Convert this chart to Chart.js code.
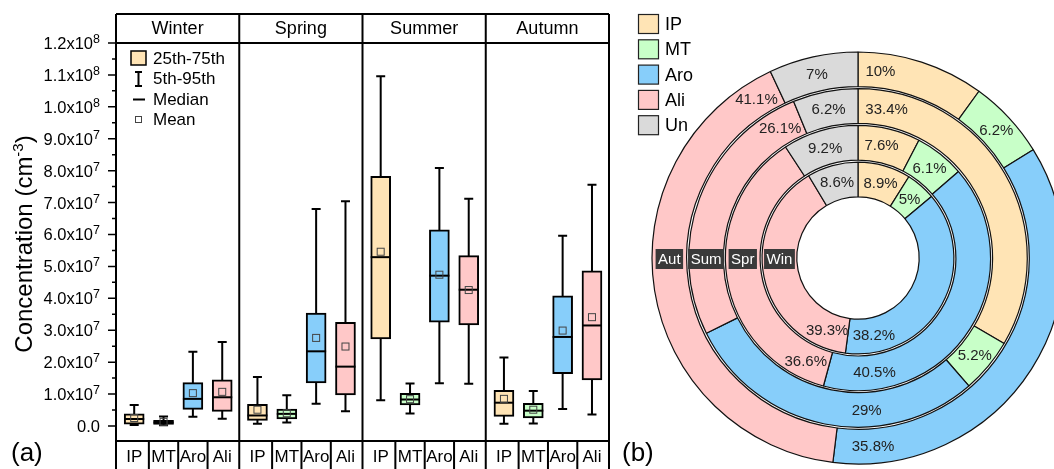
<!DOCTYPE html>
<html>
<head>
<meta charset="utf-8">
<script src="https://cdn.jsdelivr.net/npm/chart.js@4.4.0/dist/chart.umd.min.js"></script>
<style>
  html, body { margin: 0; padding: 0; background: #fff; overflow: hidden; width: 1054px; height: 469px; }
  #boxChart { position: absolute; left: 0; top: 0; }
  #ringChart { position: absolute; left: 620px; top: 0; }
</style>
</head>
<body>
<canvas id="boxChart" width="620" height="469"></canvas>
<canvas id="ringChart" width="460" height="469"></canvas>
<script>
const seasons = ['Winter', 'Spring', 'Summer', 'Autumn'];
const groups = ['IP', 'MT', 'Aro', 'Ali'];

// concentration, units of 1e7 cm^-3; season by season, IP MT Aro Ali
const p5     = [0.03, 0.02, 0.29, 0.23,  0.07, 0.11, 0.70, 0.46,  0.81, 0.39, 1.34, 1.32,  0.07, 0.08, 0.53, 0.36];
const p25    = [0.06, 0.05, 0.52, 0.46,  0.175, 0.22, 1.35, 0.97, 2.73, 0.66, 3.25, 3.17,  0.30, 0.25, 1.64, 1.44];
const median = [0.22, 0.11, 0.85, 0.90,  0.33, 0.38, 2.34, 1.86,  5.29, 0.83, 4.71, 4.27,  0.73, 0.48, 2.79, 3.15];
const mean   = [0.25, 0.13, 1.03, 1.07,  0.51, 0.40, 2.76, 2.49,  5.46, 0.84, 4.74, 4.26,  0.85, 0.51, 2.99, 3.41];
const p75    = [0.38, 0.18, 1.36, 1.45,  0.68, 0.53, 3.54, 3.25,  7.82, 1.02, 6.15, 5.34,  1.12, 0.71, 4.08, 4.86];
const p95    = [0.66, 0.30, 2.33, 2.63,  1.535, 0.96, 6.80, 7.04, 10.96, 1.33, 8.08, 7.12, 2.15, 1.10, 5.96, 7.56];
const yTickValues = [0, 1, 2, 3, 4, 5, 6, 7, 8, 9, 10, 11, 12];

// composition (%) per season, order IP MT Aro Ali Un
const parts = ['IP', 'MT', 'Aro', 'Ali', 'Un'];
const ringNames = ['Win', 'Spr', 'Sum', 'Aut'];
const winShare = [8.9, 5, 38.2, 39.3, 8.6];
const sprShare = [7.6, 6.1, 40.5, 36.6, 9.2];
const sumShare = [33.4, 5.2, 29, 26.1, 6.2];
const autShare = [10, 6.2, 35.8, 41.1, 7];

const FONT = '"Liberation Sans", Arial, sans-serif';
const colors = { IP: '#FFE4B5', MT: '#C8FFC8', Aro: '#87CEFA', Ali: '#FFC8C8', Un: '#DADADA' };

// x layout of the box panel
const PANEL = 4.2, FIRST = 0.62;
function xPos(i) { return Math.floor(i / 4) * PANEL + FIRST + i % 4; }

function yLabel(ctx, v, xr, y) {
  ctx.textBaseline = 'alphabetic';
  if (v === 0) {
    ctx.font = '16.5px ' + FONT;
    ctx.textAlign = 'right';
    ctx.fillText('0.0', xr, y + 6);
    return;
  }
  const exp = v >= 10 ? '8' : '7';
  const main = (v >= 10 ? v / 10 : v).toFixed(1) + 'x10';
  ctx.font = '12.5px ' + FONT;
  const ew = ctx.measureText(exp).width;
  ctx.textAlign = 'left';
  ctx.fillText(exp, xr - ew, y);
  ctx.font = '16.5px ' + FONT;
  ctx.textAlign = 'right';
  ctx.fillText(main, xr - ew, y + 6);
}

const boxExtras = {
  id: 'boxExtras',
  beforeDatasetsDraw(chart) {
    const ctx = chart.ctx, xs = chart.scales.x, ys = chart.scales.y;
    ctx.save();
    ctx.strokeStyle = '#000';
    ctx.lineWidth = 2;
    for (let i = 0; i < p5.length; i++) {
      const px = xs.getPixelForValue(xPos(i));
      const lo = ys.getPixelForValue(p5[i]), hi = ys.getPixelForValue(p95[i]);
      ctx.beginPath();
      ctx.moveTo(px, lo); ctx.lineTo(px, hi);
      ctx.moveTo(px - 4.5, lo); ctx.lineTo(px + 4.5, lo);
      ctx.moveTo(px - 4.5, hi); ctx.lineTo(px + 4.5, hi);
      ctx.stroke();
    }
    ctx.restore();
  },
  afterDatasetsDraw(chart) {
    const ctx = chart.ctx, xs = chart.scales.x, ys = chart.scales.y;
    ctx.save();
    for (let i = 0; i < median.length; i++) {
      const px = xs.getPixelForValue(xPos(i));
      const my = ys.getPixelForValue(median[i]);
      ctx.strokeStyle = '#000';
      ctx.lineWidth = 2;
      ctx.beginPath();
      ctx.moveTo(px - 10, my); ctx.lineTo(px + 10, my);
      ctx.stroke();
      const ay = ys.getPixelForValue(mean[i]);
      ctx.strokeStyle = '#444';
      ctx.lineWidth = 1;
      ctx.strokeRect(px - 3.5, ay - 3.5, 7, 7);
    }
    ctx.restore();
  },
  afterDraw(chart) {
    const ctx = chart.ctx, xs = chart.scales.x, ys = chart.scales.y;
    const { left, right, top, bottom } = chart.chartArea;
    const headTop = top - 29, foot = chart.height;
    ctx.save();
    ctx.fillStyle = '#000';
    ctx.strokeStyle = '#000';

    // frame
    ctx.lineWidth = 2;
    ctx.beginPath();
    ctx.moveTo(left, headTop); ctx.lineTo(right, headTop);
    ctx.moveTo(left, top); ctx.lineTo(right, top);
    ctx.moveTo(left, bottom); ctx.lineTo(right, bottom);
    for (let s = 0; s <= seasons.length; s++) {
      const px = xs.getPixelForValue(s * PANEL);
      ctx.moveTo(px, headTop); ctx.lineTo(px, foot);
    }
    for (let s = 0; s < seasons.length; s++) {
      for (let g = 0; g < groups.length - 1; g++) {
        const px = xs.getPixelForValue(s * PANEL + FIRST + g + 0.5);
        ctx.moveTo(px, bottom); ctx.lineTo(px, foot);
      }
    }
    ctx.stroke();

    // season headers and group labels
    ctx.textAlign = 'center';
    ctx.textBaseline = 'middle';
    ctx.font = '18px ' + FONT;
    seasons.forEach((s, k) => {
      const cx = (xs.getPixelForValue(k * PANEL) + xs.getPixelForValue((k + 1) * PANEL)) / 2;
      ctx.fillText(s, cx, (headTop + top) / 2 + 1);
    });
    ctx.font = '17px ' + FONT;
    for (let i = 0; i < p5.length; i++) {
      ctx.fillText(groups[i % 4], xs.getPixelForValue(xPos(i)), bottom + 16);
    }

    // y ticks
    ctx.lineWidth = 1.5;
    ctx.beginPath();
    yTickValues.forEach(v => {
      const py = ys.getPixelForValue(v);
      ctx.moveTo(left - 8, py); ctx.lineTo(left, py);
      if (v + 0.5 <= ys.max) {
        const my = ys.getPixelForValue(v + 0.5);
        ctx.moveTo(left - 4, my); ctx.lineTo(left, my);
      }
    });
    ctx.stroke();
    yTickValues.forEach(v => yLabel(ctx, v, left - 16, ys.getPixelForValue(v)));

    // y title
    ctx.save();
    ctx.translate(32, (top + bottom) / 2 + 2);
    ctx.rotate(-Math.PI / 2);
    ctx.textAlign = 'left';
    ctx.textBaseline = 'alphabetic';
    const t1 = 'Concentration (cm', t2 = '-3', t3 = ')';
    ctx.font = '24px ' + FONT;
    const w1 = ctx.measureText(t1).width, w3 = ctx.measureText(t3).width;
    ctx.font = '15px ' + FONT;
    const w2 = ctx.measureText(t2).width;
    let x0 = -(w1 + w2 + w3) / 2;
    ctx.font = '24px ' + FONT;
    ctx.fillText(t1, x0, 0);
    ctx.font = '15px ' + FONT;
    ctx.fillText(t2, x0 + w1, -9);
    ctx.font = '24px ' + FONT;
    ctx.fillText(t3, x0 + w1 + w2, 0);
    ctx.restore();

    // legend inside Winter panel
    ctx.lineWidth = 1.5;
    ctx.fillStyle = colors.IP;
    ctx.fillRect(131, 51, 15, 14);
    ctx.strokeRect(131, 51, 15, 14);
    ctx.lineWidth = 2;
    ctx.beginPath();
    ctx.moveTo(138.5, 72); ctx.lineTo(138.5, 86);
    ctx.moveTo(135, 72); ctx.lineTo(142, 72);
    ctx.moveTo(135, 86); ctx.lineTo(142, 86);
    ctx.moveTo(133, 99.5); ctx.lineTo(145, 99.5);
    ctx.stroke();
    ctx.strokeStyle = '#444';
    ctx.lineWidth = 1;
    ctx.strokeRect(135.5, 116.5, 6, 6);
    ctx.fillStyle = '#000';
    ctx.textAlign = 'left';
    ctx.textBaseline = 'middle';
    ctx.font = '17px ' + FONT;
    ['25th-75th', '5th-95th', 'Median', 'Mean'].forEach((t, k) => {
      ctx.fillText(t, 153, 59 + k * 20.6);
    });

    ctx.font = '26px ' + FONT;
    ctx.textBaseline = 'alphabetic';
    ctx.fillText('(a)', 11, 461);
    ctx.restore();
  }
};

new Chart(document.getElementById('boxChart'), {
  type: 'bar',
  data: {
    datasets: [{
      data: p25.map((v, i) => ({ x: xPos(i), y: [v, p75[i]] })),
      backgroundColor: p25.map((v, i) => colors[groups[i % 4]]),
      borderColor: '#000',
      borderWidth: 2,
      borderSkipped: false,
      barThickness: 20
    }]
  },
  options: {
    responsive: false,
    animation: false,
    events: [],
    layout: { padding: { left: 116, right: 11, top: 43, bottom: 28 } },
    plugins: { legend: { display: false }, tooltip: { enabled: false } },
    scales: {
      x: { type: 'linear', display: false, min: 0, max: PANEL * 4, offset: false },
      y: { display: false, min: -0.47, max: 12 }
    }
  },
  plugins: [boxExtras]
});

// ring chart: outer ring is Autumn, inner ring Winter
const shares = [autShare, sumShare, sprShare, winShare];
const ringTags = ['Aut', 'Sum', 'Spr', 'Win'];
const labelSpot = [
  [0.19, 0.5, 0.91, 0.95, 0.5],
  [0.09, 0.5, 0.36, 0.91, 0.5],
  [0.43, 0.5, 0.84, 0.09, 0.5],
  [0.52, 0.5, 0.86, 0.11, 0.5]
];
const ringSets = [];
shares.forEach((d, k) => {
  if (k > 0) {
    ringSets.push({ data: [1], backgroundColor: 'rgba(0,0,0,0)', borderColor: 'rgba(0,0,0,0)', borderWidth: 1.2, weight: 0.058, gap: true });
  }
  ringSets.push({
    label: ringTags[k],
    data: d,
    backgroundColor: parts.map(p => colors[p]),
    borderColor: '#111',
    borderWidth: 1.2,
    weight: 1,
    ring: k
  });
});

const ringExtras = {
  id: 'ringExtras',
  afterDatasetsDraw(chart) {
    const ctx = chart.ctx;
    ctx.save();
    chart.data.datasets.forEach((ds, di) => {
      if (ds.gap) return;
      const arcs = chart.getDatasetMeta(di).data;
      arcs.forEach((arc, j) => {
        const a = arc.startAngle + labelSpot[ds.ring][j] * (arc.endAngle - arc.startAngle);
        const r = (arc.innerRadius + arc.outerRadius) / 2;
        ctx.fillStyle = '#222';
        ctx.font = '15px ' + FONT;
        ctx.textAlign = 'center';
        ctx.textBaseline = 'middle';
        ctx.fillText(ds.data[j] + '%', arc.x + r * Math.cos(a), arc.y + r * Math.sin(a) + 1);
      });
      const a0 = arcs[0];
      const r = (a0.innerRadius + a0.outerRadius) / 2;
      ctx.font = '15px ' + FONT;
      const w = ctx.measureText(ds.label).width + 5;
      const cx = a0.x - r, cy = a0.y + 1;
      ctx.fillStyle = '#3a3a3a';
      ctx.fillRect(cx - w / 2, cy - 10, w, 20);
      ctx.fillStyle = '#fff';
      ctx.textAlign = 'center';
      ctx.textBaseline = 'middle';
      ctx.fillText(ds.label, cx, cy + 0.5);
    });
    ctx.restore();
  },
  afterDraw(chart) {
    const ctx = chart.ctx;
    ctx.save();
    ctx.strokeStyle = '#222';
    ctx.lineWidth = 1.2;
    ctx.font = '18px ' + FONT;
    ctx.textAlign = 'left';
    ctx.textBaseline = 'middle';
    parts.forEach((p, k) => {
      const y = 14 + k * 25.3;
      ctx.fillStyle = colors[p];
      ctx.fillRect(18.5, y + 0.5, 20, 19);
      ctx.strokeRect(18.5, y + 0.5, 20, 19);
      ctx.fillStyle = '#000';
      ctx.fillText(p, 45, y + 11);
    });
    ctx.font = '26px ' + FONT;
    ctx.textBaseline = 'alphabetic';
    ctx.fillText('(b)', 2, 461);
    ctx.restore();
  }
};

new Chart(document.getElementById('ringChart'), {
  type: 'doughnut',
  data: { labels: parts, datasets: ringSets },
  options: {
    responsive: false,
    animation: false,
    events: [],
    radius: 206,
    cutout: 61,
    layout: { padding: { left: 32, top: 52, right: 16, bottom: 5 } },
    plugins: { legend: { display: false }, tooltip: { enabled: false } }
  },
  plugins: [ringExtras]
});
</script>
</body>
</html>
